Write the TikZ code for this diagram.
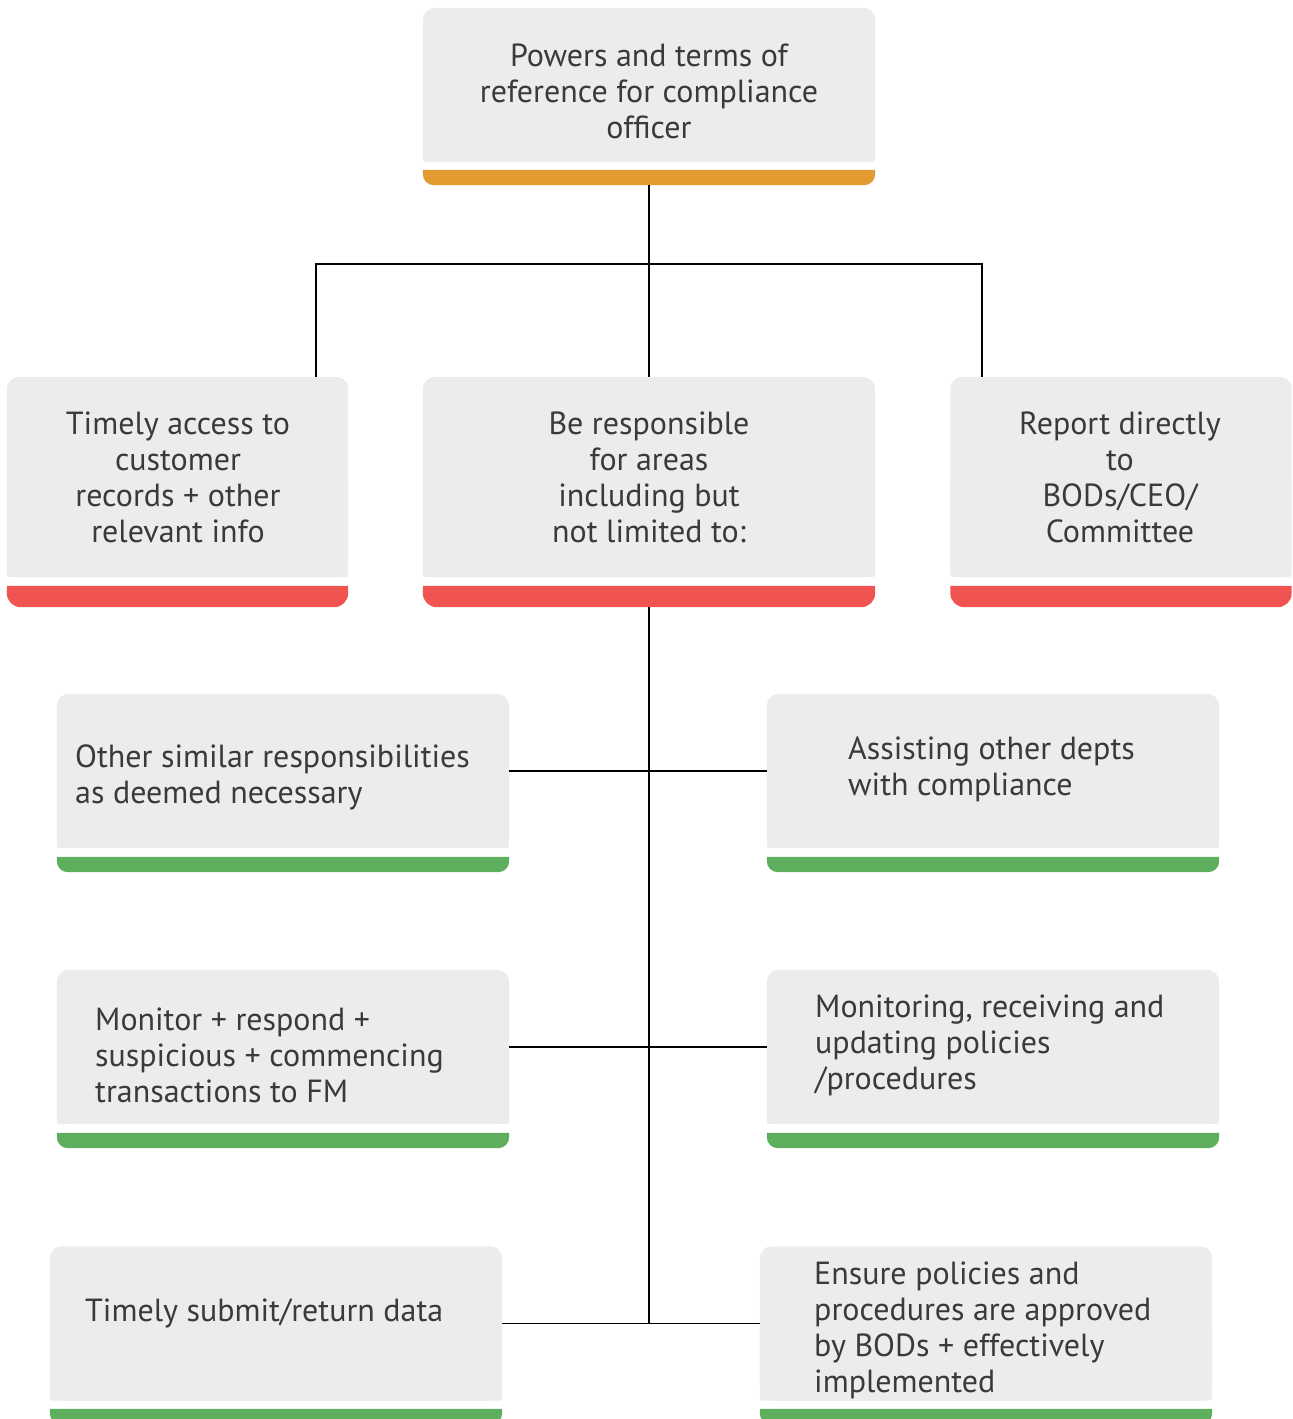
\documentclass[tikz,border=0pt]{standalone}
\usepackage{fontspec}
\setmainfont{PT Sans}
\usetikzlibrary{backgrounds,calc}

\definecolor{boxgray}{HTML}{EBECEE}
\definecolor{barorange}{HTML}{E39A31}
\definecolor{barred}{HTML}{EF5451}
\definecolor{bargreen}{HTML}{5DAF5D}
\definecolor{inktext}{HTML}{3A3A3A}

% gray card: large radius on top, small radius at the bottom
\newcommand\cardfill[1]{%
  \fill[boxgray, rounded corners=12pt] (#1.south west) rectangle (#1.north east);
  \fill[boxgray, rounded corners=3pt] (#1.south west) rectangle (#1.east);
}
% coloured strip under a card: square top, rounded bottom corners
% #1 node, #2 colour, #3 corner radius
\newcommand\stripfill[3]{%
  \fill[#2] (#1.north west) -- ([yshift=#3]#1.south west)
    arc[start angle=180, end angle=270, radius=#3]
    -- ([xshift=-#3]#1.south east)
    arc[start angle=270, end angle=360, radius=#3]
    -- (#1.north east) -- cycle;
}

\tikzset{
  card/.style={rectangle, inner sep=0pt, minimum width=452pt, minimum height=154pt},
  tallcard/.style={card, minimum height=200pt},
  narrowcard/.style={tallcard, minimum width=341pt},
  strip/.style={rectangle, inner sep=0pt, minimum width=452pt, minimum height=15pt},
  tallstrip/.style={strip, minimum height=21pt},
  narrowstrip/.style={tallstrip, minimum width=341pt},
  label/.style={text=inktext, inner sep=0pt, font=\fontsize{32}{36}\selectfont},
  ctext/.style={label, align=center},
  ltext/.style={label, align=left, anchor=west},
  link/.style={draw=black, line width=1.8pt},
}

\begin{document}
\begin{tikzpicture}[x=1pt, y=-1pt]
\useasboundingbox (0,0) rectangle (1293,1419);

% cards
\node[card]        (top)  at (649,85)     {};
\node[strip]       (topS) at (649,177.5)  {};
\node[narrowcard]  (acc)  at (177.5,477)  {};
\node[narrowstrip] (accS) at (177.5,596.5){};
\node[tallcard]    (resp) at (649,477)    {};
\node[tallstrip]   (respS)at (649,596.5)  {};
\node[narrowcard]  (rep)  at (1121,477)   {};
\node[narrowstrip] (repS) at (1121,596.5) {};
\node[card]        (oth)  at (283,771)    {};
\node[strip]       (othS) at (283,864.5)  {};
\node[card]        (asst) at (993,771)    {};
\node[strip]       (asstS)at (993,864.5)  {};
\node[card]        (mon)  at (283,1047)   {};
\node[strip]       (monS) at (283,1140.5) {};
\node[card]        (pol)  at (993,1047)   {};
\node[strip]       (polS) at (993,1140.5) {};
\node[card]        (sub)  at (276,1323.5) {};
\node[strip]       (subS) at (276,1416.5) {};
\node[card]        (ens)  at (986,1323.5) {};
\node[strip]       (ensS) at (986,1416.5) {};

\begin{scope}[on background layer]
  \foreach \n in {top,acc,resp,rep,oth,asst,mon,pol,sub,ens} {\cardfill{\n}}
  \stripfill{topS}{barorange}{11pt}
  \foreach \n in {accS,respS,repS} {\stripfill{\n}{barred}{14pt}}
  \foreach \n in {othS,asstS,monS,polS,subS,ensS} {\stripfill{\n}{bargreen}{11pt}}
\end{scope}

% texts
\node[ctext] (topT)  at (649,91)  {Powers and terms of\\reference for compliance\\officer};
\node[ctext] (accT)  at (178,477) {Timely access to\\customer\\records + other\\relevant info};
\node[ctext] (respT) at (649,477) {Be responsible\\for areas\\including but\\not limited to:};
\node[ctext] (repT)  at (1120,477){Report directly\\to\\BODs/CEO/\\Committee};
\node[ltext] (othT)  at (75,777)  {Other similar responsibilities\\as deemed necessary};
\node[ltext] (asstT) at (848,769) {Assisting other depts\\with compliance};
\node[ltext] (monT)  at (95,1055) {Monitor + respond +\\suspicious + commencing\\transactions to FM};
\node[ltext] (polT)  at (815,1045){Monitoring, receiving and\\updating policies\\/procedures};
\node[ltext] (subT)  at (85,1313) {Timely submit/return data};
\node[ltext] (ensT)  at (814,1330){Ensure policies and\\procedures are approved\\by BODs + effectively\\implemented};

% connectors
\coordinate (hub)     at (649,264);
\coordinate (accTap)  at ([xshift=309pt]acc.north west);
\coordinate (repTap)  at ([xshift=32pt]rep.north west);
\coordinate (trunkEnd) at (respS.south |- sub.east);

\draw[link] (topS.south) -- (resp.north);
\draw[link] (accTap) |- (hub) -| (repTap);
\draw[link] (respS.south) -- (trunkEnd);
\draw[link] (oth.east) -- (asst.west);
\draw[link] (mon.east) -- (pol.west);
\draw[link] (sub.east) -- (ens.west);
\end{tikzpicture}
\end{document}
